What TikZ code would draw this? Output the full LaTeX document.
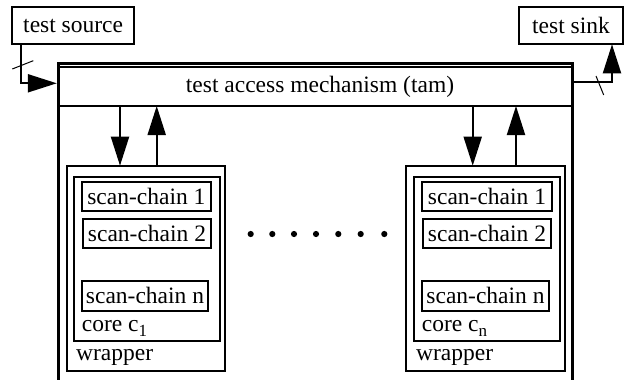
\documentclass[tikz,border=0pt]{standalone}
\usepackage{fontspec}
\setmainfont{Liberation Serif}
\usetikzlibrary{arrows.meta}
\newcommand{\subsc}[1]{\raisebox{-5pt}{\fontsize{17}{17}\selectfont #1}}
\begin{document}
\begin{tikzpicture}[x=1pt,y=-1pt,
  txt/.style={font=\fontsize{23.5}{28}\selectfont},
  blk/.style={draw, line width=2pt, rectangle, inner sep=0pt, outer sep=0pt, anchor=north west, txt},
  conn/.style={draw, line width=2pt, -{Triangle[length=29pt,width=18pt]}},
  frame/.style={draw, line width=3pt, line join=miter},
  tick/.style={draw, line width=1pt},
  lbl/.style={txt, inner sep=0pt, anchor=base west}]
\useasboundingbox (0,0) rectangle (637,380);
\fill[white] (0,0) rectangle (637,380);

% outer frame
\draw[frame] (58.3,385) -- (58.3,63.5) -- (572.5,63.5) -- (572.5,385);

% test source / sink
\node[blk, minimum width=121.7pt, minimum height=37pt] (src) at (12.3,7.3) {test source};
\node[blk, minimum width=104pt, minimum height=37pt] (sink) at (519,7.3) {test sink};

% tam
\node[blk, minimum width=514pt, minimum height=39pt, line width=1.8pt] (tam) at (58.3,67) {};
\node[lbl] (tamlbl) at (185.7,92.4) {test access mechanism (tam)};

% left core
\node[blk, minimum width=158.3pt, minimum height=205pt] (w1) at (66.7,165.7) {};
\node[blk, minimum width=146pt, minimum height=164.3pt] (c1) at (74,176.7) {};
\node[blk, minimum width=129.3pt, minimum height=29.3pt] (s11) at (81.7,181.7) {scan-chain 1};
\node[blk, minimum width=127.4pt, minimum height=29pt] (s12) at (83.3,219.3) {scan-chain 2};
\node[blk, minimum width=126.6pt, minimum height=30pt] (s1n) at (81.7,280.7) {scan-chain n};
\node[lbl] (c1lbl) at (81.7,331.7) {core c\subsc{1}};
\node[lbl] (w1lbl) at (76,360) {wrapper};

% right core
\node[blk, minimum width=159pt, minimum height=205pt] (w2) at (406,165.7) {};
\node[blk, minimum width=146pt, minimum height=164.3pt] (c2) at (414,176.7) {};
\node[blk, minimum width=130.6pt, minimum height=29.3pt] (s21) at (421.7,181.7) {scan-chain 1};
\node[blk, minimum width=127.4pt, minimum height=29pt] (s22) at (423.3,219.3) {scan-chain 2};
\node[blk, minimum width=127.6pt, minimum height=30pt] (s2n) at (421.7,280.7) {scan-chain n};
\node[lbl] (c2lbl) at (421.7,331.7) {core c\subsc{n}};
\node[lbl] (w2lbl) at (416,360) {wrapper};

% dots
\foreach \dx in {250.7,272.3,294,316,338.3,360.7,384.3}
  \fill (\dx,234) circle (3.1pt);

% connector columns
\coordinate (d1) at (120,0);
\coordinate (u1) at (156.7,0);
\coordinate (d2) at (472.7,0);
\coordinate (u2) at (516,0);

\draw[conn] (tam.south -| d1) -- (w1.north -| d1);
\draw[conn] (w1.north -| u1) -- (tam.south -| u1);
\draw[conn] (tam.south -| d2) -- (w2.north -| d2);
\draw[conn] (w2.north -| u2) -- (tam.south -| u2);

% source and sink connectors
\draw[conn] ([xshift=8.7pt]src.south west) |- ([yshift=3.2pt,xshift=-1.5pt]tam.west);
\draw[conn] ([yshift=4.2pt,xshift=1.5pt]tam.east) -| ([xshift=93pt]sink.south west);

% ticks
\draw[tick] (12.3,69) -- (33.3,60.7);
\draw[tick] (596,76) -- (603.7,95);
\end{tikzpicture}
\end{document}
